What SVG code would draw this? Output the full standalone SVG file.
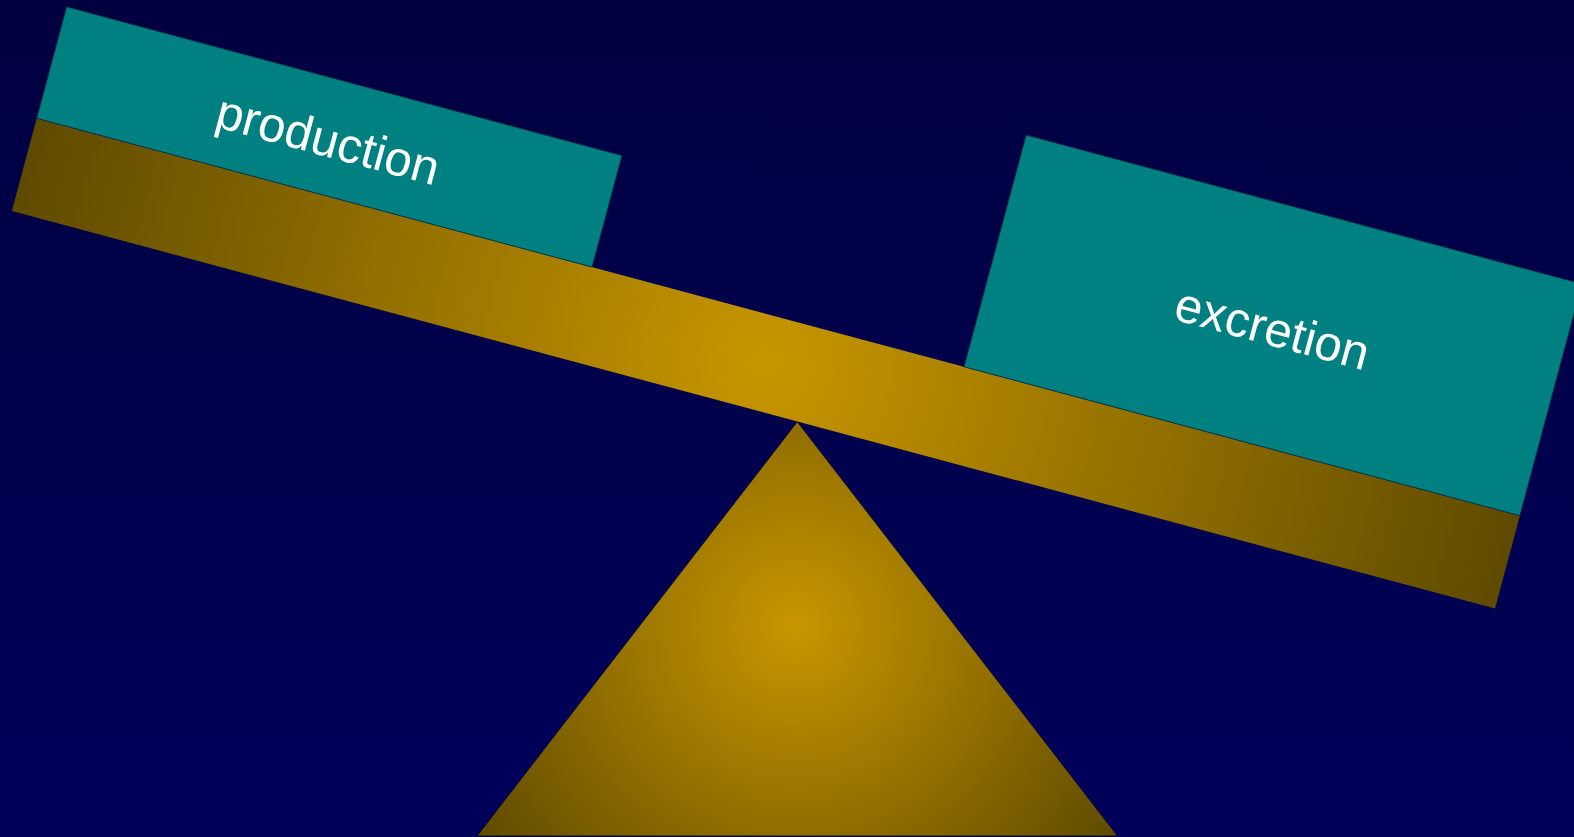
<svg xmlns="http://www.w3.org/2000/svg" width="1574" height="837" viewBox="0 0 1574 837">
  <defs>
    <linearGradient id="bg" x1="0" y1="0" x2="0" y2="1">
      <stop offset="0" stop-color="#000040"/>
      <stop offset="1" stop-color="#00005A"/>
    </linearGradient>
    <radialGradient id="beamGrad" gradientUnits="userSpaceOnUse" cx="768" cy="48" r="770">
      <stop offset="0" stop-color="#C89600"/>
      <stop offset="1" stop-color="#5E4A00"/>
    </radialGradient>
    <radialGradient id="triGrad" gradientUnits="userSpaceOnUse" cx="796" cy="627" r="383">
      <stop offset="0" stop-color="#C89600"/>
      <stop offset="1" stop-color="#5E4A00"/>
    </radialGradient>
  </defs>
  <style>
    .box { fill: #008080; stroke: #0a2a40; stroke-width: 0.8; }
    .lbl { font-family: "Liberation Sans", Arial, Helvetica, sans-serif; font-size: 49px; fill: #ffffff; text-anchor: middle; }
  </style>
  <rect id="background" x="0" y="0" width="1574" height="837" fill="url(#bg)"/>
  <g id="fulcrum">
    <polygon points="797.3,421.7 477,836 1117.6,836" fill="url(#triGrad)" stroke="#000030" stroke-width="0.8"/>
  </g>
  <g transform="translate(36.7,118.3) rotate(15)">
    <g id="beam">
      <rect x="0" y="0" width="1535.5" height="96" fill="url(#beamGrad)"/>
    </g>
    <g id="production">
      <rect class="box" x="0" y="-115.5" width="575" height="115.5"/>
      <text class="lbl" x="287" y="-38">production</text>
    </g>
    <g id="excretion">
      <rect class="box" x="960" y="-240" width="575.5" height="240"/>
      <text class="lbl" x="1248" y="-100">excretion</text>
    </g>
  </g>
</svg>
